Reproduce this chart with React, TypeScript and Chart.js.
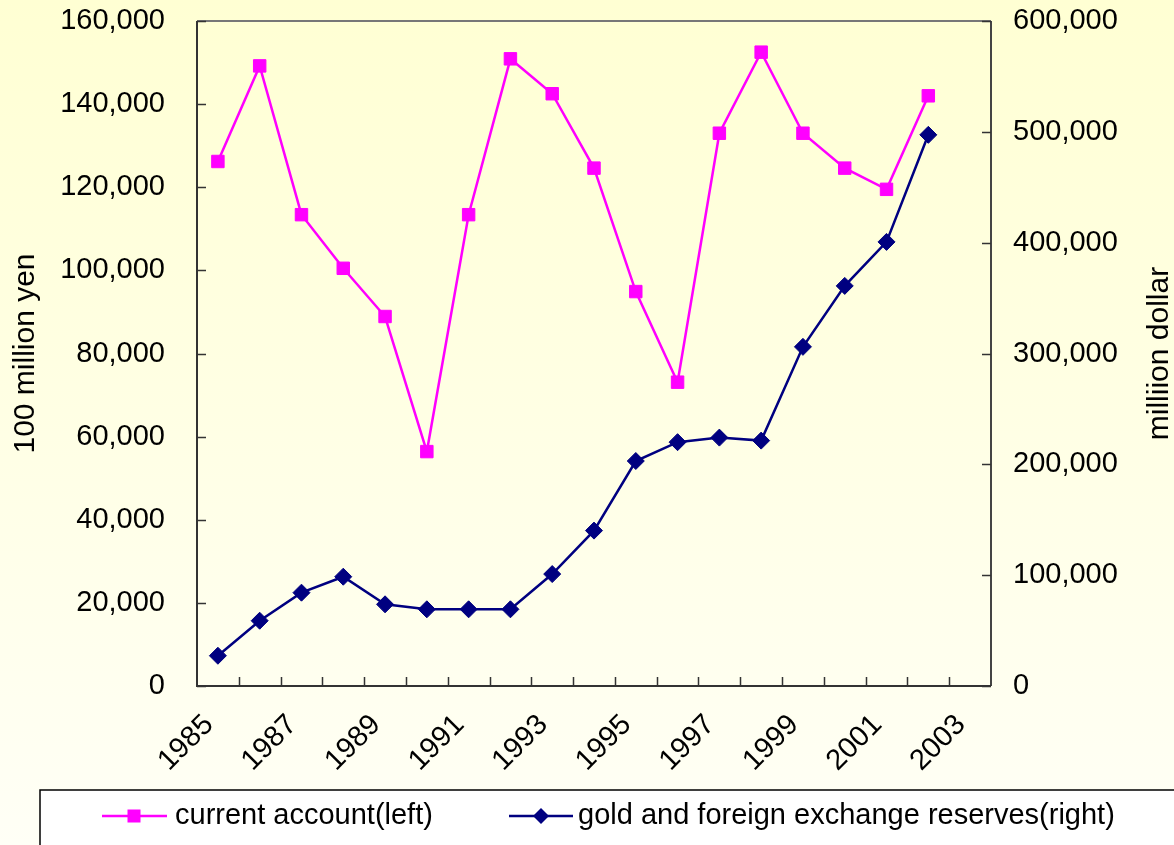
import React, { useEffect, useRef } from 'react';
import { Chart, registerables } from 'chart.js';

Chart.register(...registerables);

const years = ['1985', '1986', '1987', '1988', '1989', '1990', '1991', '1992', '1993', '1994', '1995', '1996', '1997', '1998', '1999', '2000', '2001', '2002', '2003'];
const currentAccount = [126200, 149200, 113400, 100500, 88900, 56400, 113400, 150900, 142500, 124600, 94900, 73100, 133000, 152500, 133000, 124600, 119500, 142000, null];
const reserves = [27300, 58900, 84200, 98600, 73700, 69200, 69200, 69200, 101000, 140200, 203000, 220000, 224100, 221400, 306000, 361000, 400700, 497300, null];

const leftMax = 160000;
const leftStep = 20000;
const rightMax = 600000;
const rightStep = 100000;

const leftTitle = '100 million yen';
const rightTitle = 'milliion dollar';
const legendLabels = ['current account(left)', 'gold and foreign exchange reserves(right)'];

const PINK = '#FF00FF';
const NAVY = '#000080';
const FONT = '"Liberation Sans", Arial, sans-serif';

const fmt = (v: number) => v.toLocaleString('en-US');

const bgPlugin = {
  id: 'bgGrad',
  beforeDraw(chart: any) {
    const { ctx, width, height } = chart;
    const g = ctx.createLinearGradient(0, 0, 0, height);
    g.addColorStop(0, '#FFFFD3');
    g.addColorStop(1, '#FFFFF6');
    ctx.save();
    ctx.fillStyle = g;
    ctx.fillRect(0, 0, width, height);
    ctx.restore();
  },
};

const framePlugin = {
  id: 'frame',
  beforeDatasetsDraw(chart: any) {
    const { ctx, chartArea } = chart;
    const { left, right, top, bottom } = chartArea;
    const xs = chart.scales.x;
    const yl = chart.scales.y;
    const yr = chart.scales.y1;
    ctx.save();
    ctx.lineWidth = 2;
    ctx.strokeStyle = '#777777';
    ctx.beginPath();
    ctx.moveTo(left, top);
    ctx.lineTo(right, top);
    ctx.stroke();
    ctx.strokeStyle = '#444444';
    ctx.beginPath();
    ctx.moveTo(right, top);
    ctx.lineTo(right, bottom);
    ctx.stroke();
    ctx.strokeStyle = '#333333';
    ctx.beginPath();
    ctx.moveTo(left, top);
    ctx.lineTo(left, bottom);
    ctx.lineTo(right, bottom);
    ctx.stroke();
    ctx.lineWidth = 1.5;
    ctx.strokeStyle = '#333333';
    ctx.beginPath();
    yl.ticks.forEach((t: any) => {
      const y = Math.round(yl.getPixelForValue(t.value)) + 0.5;
      ctx.moveTo(left, y);
      ctx.lineTo(left + 9, y);
    });
    yr.ticks.forEach((t: any) => {
      const y = Math.round(yr.getPixelForValue(t.value)) + 0.5;
      ctx.moveTo(right - 9, y);
      ctx.lineTo(right, y);
    });
    for (let i = 1; i < years.length; i++) {
      const x = Math.round((xs.getPixelForValue(i - 1) + xs.getPixelForValue(i)) / 2) + 0.5;
      ctx.moveTo(x, bottom);
      ctx.lineTo(x, bottom - 9);
    }
    ctx.stroke();
    ctx.restore();
  },
};

const legendPlugin = {
  id: 'customLegend',
  afterDraw(chart: any) {
    const { ctx, chartArea } = chart;
    ctx.save();
    ctx.fillStyle = '#000';
    ctx.font = `30px ${FONT}`;
    ctx.textAlign = 'center';
    ctx.textBaseline = 'middle';
    ctx.translate(1160, (chartArea.top + chartArea.bottom) / 2);
    ctx.rotate(-Math.PI / 2);
    ctx.fillText(rightTitle, 0, 0);
    ctx.restore();

    ctx.save();
    ctx.fillStyle = '#FFFFFF';
    ctx.strokeStyle = '#000000';
    ctx.lineWidth = 1.5;
    ctx.fillRect(40, 790, 1200, 100);
    ctx.strokeRect(40, 790, 1200, 100);

    const cy = 816;
    ctx.font = `29px ${FONT}`;
    ctx.textBaseline = 'middle';
    ctx.textAlign = 'left';
    ctx.strokeStyle = PINK;
    ctx.lineWidth = 2.5;
    ctx.beginPath();
    ctx.moveTo(102, cy);
    ctx.lineTo(167, cy);
    ctx.stroke();
    ctx.fillStyle = PINK;
    ctx.fillRect(134 - 6.5, cy - 6.5, 13, 13);
    ctx.fillStyle = '#000';
    ctx.fillText(legendLabels[0], 175, cy);
    ctx.strokeStyle = NAVY;
    ctx.beginPath();
    ctx.moveTo(509, cy);
    ctx.lineTo(573, cy);
    ctx.stroke();
    ctx.fillStyle = NAVY;
    ctx.beginPath();
    ctx.moveTo(541, cy - 8);
    ctx.lineTo(549, cy);
    ctx.lineTo(541, cy + 8);
    ctx.lineTo(533, cy);
    ctx.closePath();
    ctx.fill();
    ctx.fillStyle = '#000';
    ctx.fillText(legendLabels[1], 578, cy);
    ctx.restore();
  },
};

const zeroPad = (s: any) => {
  s.paddingTop = 0;
  s.paddingBottom = 0;
};

export default function App() {
  const ref = useRef<HTMLCanvasElement | null>(null);
  useEffect(() => {
    document.body.style.margin = '0';
    const canvas = ref.current;
    if (!canvas) return;
    const chart = new Chart(canvas, {
      type: 'line',
      data: {
        labels: years,
        datasets: [
          {
            label: legendLabels[0],
            data: currentAccount,
            yAxisID: 'y',
            borderColor: PINK,
            backgroundColor: PINK,
            borderWidth: 2.5,
            pointStyle: 'rect',
            pointRadius: 8.8,
            pointBorderWidth: 1,
            tension: 0,
            clip: false,
          } as any,
          {
            label: legendLabels[1],
            data: reserves,
            yAxisID: 'y1',
            borderColor: NAVY,
            backgroundColor: NAVY,
            borderWidth: 2.5,
            pointStyle: 'rectRot',
            pointRadius: 8.5,
            pointBorderWidth: 1,
            tension: 0,
            clip: false,
          } as any,
        ],
      },
      options: {
        animation: false,
        responsive: false,
        events: [],
        layout: { padding: { top: 21, left: 0, right: 0, bottom: 0 } },
        plugins: { legend: { display: false }, tooltip: { enabled: false } },
        scales: {
          x: {
            type: 'category',
            offset: true,
            grid: { display: false, drawTicks: false },
            border: { display: false },
            ticks: {
              autoSkip: false,
              minRotation: 45,
              maxRotation: 45,
              padding: 22,
              labelOffset: -9,
              color: '#000',
              font: { family: FONT, size: 29 },
              callback: (_v: any, i: number) => (i % 2 === 0 ? years[i] : ''),
            },
            afterFit: (s: any) => {
              s.height = 159;
              s.paddingLeft = 0;
              s.paddingRight = 0;
            },
          },
          y: {
            position: 'left',
            min: 0,
            max: leftMax,
            grid: { display: false, drawTicks: false },
            border: { display: false },
            ticks: {
              stepSize: leftStep,
              padding: 32,
              color: '#000',
              font: { family: FONT, size: 29 },
              callback: (v: any) => fmt(Number(v)),
            },
            title: {
              display: true,
              text: leftTitle,
              color: '#000',
              font: { family: FONT, size: 30 },
              padding: { top: 8, bottom: 0 },
            },
            afterFit: (s: any) => {
              s.width = 197;
              zeroPad(s);
            },
          },
          y1: {
            position: 'right',
            min: 0,
            max: rightMax,
            grid: { display: false, drawTicks: false },
            border: { display: false },
            ticks: {
              stepSize: rightStep,
              padding: 22,
              color: '#000',
              font: { family: FONT, size: 29 },
              callback: (v: any) => fmt(Number(v)),
            },
            afterFit: (s: any) => {
              s.width = 183;
              zeroPad(s);
            },
          },
        },
      },
      plugins: [bgPlugin, framePlugin, legendPlugin],
    } as any);
    return () => chart.destroy();
  }, []);
  return <canvas ref={ref} width={1174} height={845} style={{ display: 'block' }} />;
}
